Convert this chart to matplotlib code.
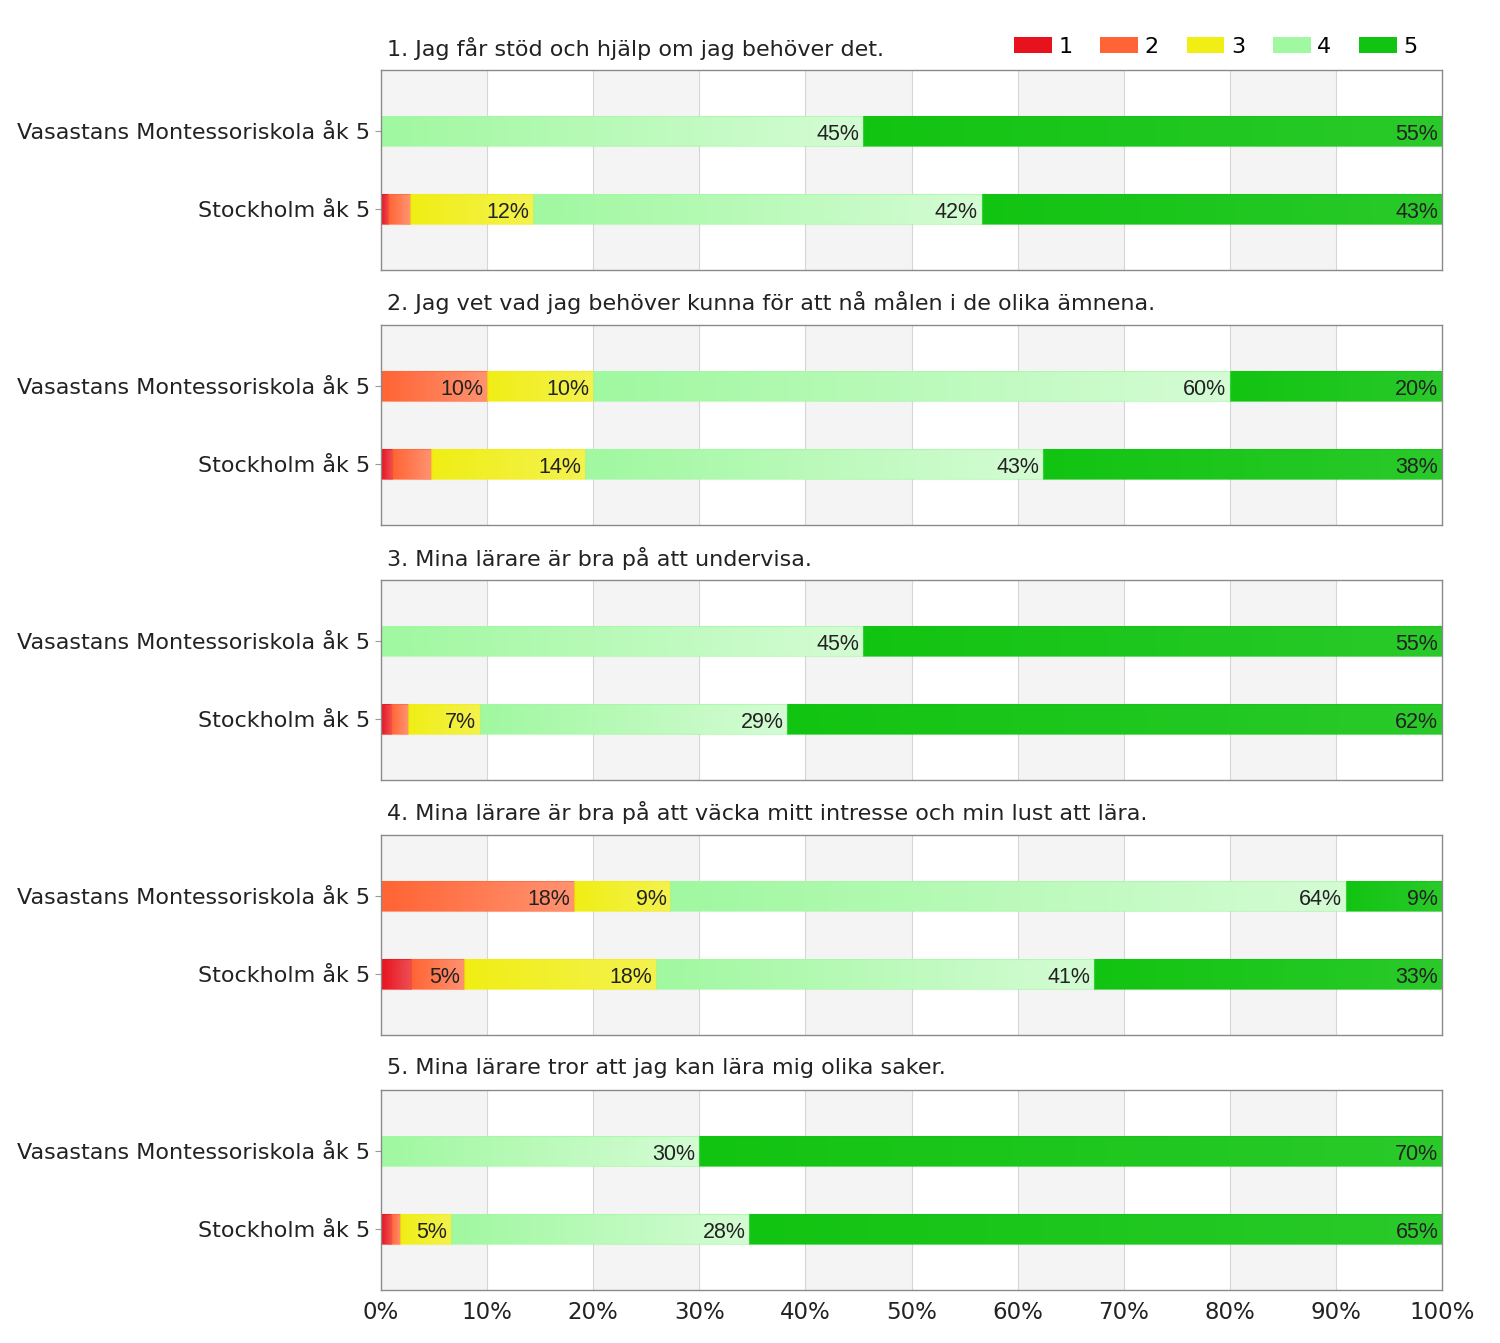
import numpy as np
import matplotlib
matplotlib.use("Agg")
import matplotlib.pyplot as plt
from matplotlib.colors import to_rgb
from matplotlib.patches import Patch

questions = [
    "1. Jag får stöd och hjälp om jag behöver det.",
    "2. Jag vet vad jag behöver kunna för att nå målen i de olika ämnena.",
    "3. Mina lärare är bra på att undervisa.",
    "4. Mina lärare är bra på att väcka mitt intresse och min lust att lära.",
    "5. Mina lärare tror att jag kan lära mig olika saker.",
]
groups = ["Vasastans Montessoriskola åk 5", "Stockholm åk 5"]
answers = ["1", "2", "3", "4", "5"]

# share (%) per answer 1..5, one row per question
vasastan = [
    [0, 0, 0, 45.45, 54.55],
    [0, 10, 10, 60, 20],
    [0, 0, 0, 45.45, 54.55],
    [0, 18.18, 9.09, 63.64, 9.09],
    [0, 0, 0, 30, 70],
]
stockholm = [
    [0.7, 2.0, 11.6, 42.3, 43.4],
    [1.0, 3.7, 14.5, 43.2, 37.6],
    [0.9, 1.6, 6.8, 29.0, 61.7],
    [2.8, 5.0, 18.1, 41.3, 32.8],
    [0.9, 0.9, 4.8, 28.1, 65.3],
]

colors = ["#e8121c", "#ff6434", "#f0ee14", "#a0f8a0", "#12c412"]
# how far each segment fades toward white at its right end
fade = [0.25, 0.3, 0.25, 0.55, 0.1]

W, H = 1500, 1343
fig = plt.figure(figsize=(W / 100, H / 100), dpi=100)

left = 381 / W
width = (1442 - 381) / W
ph = 200
bh = 0.38


def gradient_bar(ax, x0, w, y, color, f):
    c = np.array(to_rgb(color))
    t = np.linspace(0, 1, 64)[:, None]
    row = c * (1 - f * t) + f * t
    ax.imshow(row[None, :, :], extent=(x0, x0 + w, y + bh / 2, y - bh / 2),
              aspect="auto", interpolation="bilinear", zorder=2)
    ax.barh(y, w, left=x0, height=bh, facecolor="none",
            edgecolor=c, lw=0.8, alpha=0.6, zorder=2.5)


for qi, q in enumerate(questions):
    top = 70 + 255 * qi
    ax = fig.add_axes([left, 1 - (top + ph) / H, width, ph / H])
    for k in range(0, 100, 20):
        ax.axvspan(k, k + 10, color="#f4f4f4", zorder=0, lw=0)
    for k in range(10, 100, 10):
        ax.axvline(k, color="#d6d6d6", lw=0.8, zorder=0.5)

    rows = [vasastan[qi], stockholm[qi]]
    for gi, vals in enumerate(rows):
        start = 0
        for ai, v in enumerate(vals):
            if v > 0:
                gradient_bar(ax, start, v, gi, colors[ai], fade[ai])
                if v >= 4.5:
                    ax.text(start + v - 0.35, gi + 0.05, "%d%%" % round(v),
                            ha="right", va="center", fontsize=15.5,
                            family="Liberation Sans", color="#222222", zorder=3)
            start += v

    ax.set_xlim(0, 100)
    ax.set_ylim(1.78, -0.78)
    ax.set_yticks([0, 1])
    ax.set_yticklabels(groups, fontsize=16, color="#222222")
    ax.tick_params(axis="y", length=4, color="#999999", pad=4)
    ax.set_xticks(np.arange(0, 101, 10))
    if qi == 4:
        ax.set_xticklabels(["%d%%" % t for t in range(0, 101, 10)],
                           fontsize=16.5, color="#222222")
        ax.tick_params(axis="x", length=0, pad=8)
    else:
        ax.set_xticklabels([])
        ax.tick_params(axis="x", length=0)
    for s in ax.spines.values():
        s.set_color("#8a8a8a")
        s.set_linewidth(1.0)
    ax.text(0.006, 1.11, q, transform=ax.transAxes, fontsize=16,
            color="#222222", ha="left", va="center")

handles = [Patch(facecolor=c, edgecolor="none") for c in colors]
fig.legend(handles, answers, loc="center right", ncol=5, frameon=False,
           bbox_to_anchor=(1438 / W, 1 - 47 / H), fontsize=16,
           handlelength=1.7, handleheight=0.72, columnspacing=1.25,
           handletextpad=0.3)

fig.savefig("out.png", dpi=100)
